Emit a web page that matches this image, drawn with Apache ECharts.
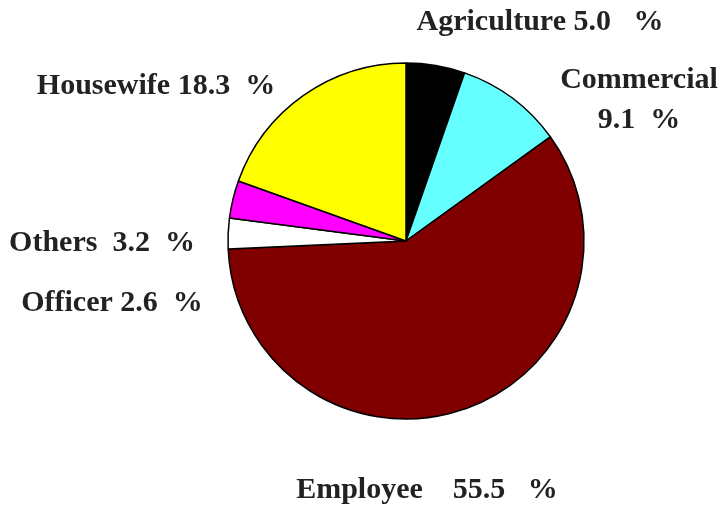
<!DOCTYPE html>
<html>
<head>
<meta charset="utf-8">
<script src="https://cdn.jsdelivr.net/npm/echarts@6/dist/echarts.min.js"></script>
<style>
html,body{margin:0;padding:0;background:#fff;}
#chart{width:723px;height:508px;}
</style>
</head>
<body>
<div id="chart"></div>
<script>
const categories = ['Agriculture', 'Commercial', 'Employee', 'Officer', 'Others', 'Housewife'];
const values = [5.0, 9.1, 55.5, 2.6, 3.2, 18.3];
const labelTexts = ['Agriculture 5.0   %', 'Commercial\n9.1  %', 'Employee    55.5   %', 'Officer 2.6  %', 'Others  3.2  %', 'Housewife 18.3  %'];
const colors = ['#000000', '#66FFFF', '#800000', '#FFFFFF', '#FF00FF', '#FFFF00'];
const labelPos = [
  {x: 540, y: 22, align: 'center'},
  {x: 639, y: 100, align: 'center'},
  {x: 427, y: 490, align: 'center'},
  {x: 112, y: 303, align: 'center'},
  {x: 102, y: 243, align: 'center'},
  {x: 156, y: 86, align: 'center'}
];

const chart = echarts.init(document.getElementById('chart'), null, {renderer: 'canvas'});
chart.setOption({
  backgroundColor: '#ffffff',
  animation: false,
  series: [{
    type: 'pie',
    center: [406, 241],
    radius: 178,
    startAngle: 90,
    clockwise: true,
    avoidLabelOverlap: false,
    data: categories.map((c, i) => ({
      name: c,
      value: values[i],
      itemStyle: {color: colors[i]},
      label: {formatter: labelTexts[i]}
    })),
    itemStyle: {borderColor: '#000', borderWidth: 1.5},
    label: {
      show: true,
      fontFamily: '"Liberation Serif", "Times New Roman", serif',
      fontWeight: 'bold',
      fontSize: 30,
      color: '#222',
      lineHeight: 40,
      align: 'center'
    },
    labelLine: {show: false},
    labelLayout: function (params) {
      const p = labelPos[params.dataIndex];
      return {x: p.x, y: p.y, align: p.align, verticalAlign: 'middle'};
    }
  }]
});
</script>
</body>
</html>
